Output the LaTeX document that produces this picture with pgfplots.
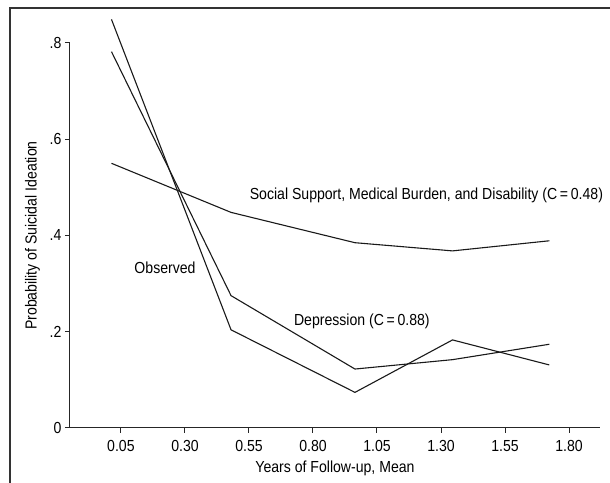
\documentclass[border=0pt]{standalone}
\usepackage{fontspec}
\setmainfont{Liberation Sans}[FakeStretch=0.88]
\usepackage{pgfplots}
\pgfplotsset{compat=1.18}

\begin{document}
\begin{tikzpicture}[font=\fontsize{16bp}{19bp}\selectfont,
    curve/.style={black!90, line width=1.1bp}]
\begin{axis}[
    scale only axis,
    width=530bp, height=385bp,
    xmin=-0.149, xmax=1.921,
    ymin=0, ymax=0.8,
    axis x line=bottom, axis y line=left,
    axis line style={-, line width=1bp, black!85},
    tick style={line width=1bp, black!85},
    tick align=outside,
    major tick length=5bp,
    xtick={0.05,0.30,0.55,0.80,1.05,1.30,1.55,1.80},
    xticklabels={0.05,0.30,0.55,0.80,1.05,1.30,1.55,1.80},
    ytick={0,0.2,0.4,0.6,0.8},
    yticklabels={0,.2,.4,.6,.8},
    xticklabel style={yshift=-4bp},
    xlabel={Years of Follow-up, Mean},
    ylabel={Probability of Suicidal Ideation},
    xlabel style={yshift=-2bp},
    ylabel style={yshift=3bp},
    clip=false,
]
% Social support, medical burden, and disability
\addplot[curve] coordinates {
    (0.013, 0.550) (0.480, 0.448) (0.964, 0.385) (1.345, 0.368) (1.723, 0.389)
};
% Observed
\addplot[curve] coordinates {
    (0.013, 0.849) (0.480, 0.204) (0.964, 0.074) (1.345, 0.183) (1.723, 0.131)
};
% Depression
\addplot[curve] coordinates {
    (0.013, 0.782) (0.480, 0.275) (0.964, 0.1225) (1.345, 0.142) (1.723, 0.174)
};
\node at (axis cs:1.243,0.484) {Social Support, Medical Burden, and Disability (C\,=\,0.48)};
\node at (axis cs:0.222,0.333) {Observed};
\node at (axis cs:0.991,0.221) {Depression (C\,=\,0.88)};
\coordinate (ll) at (rel axis cs:0,0);
\coordinate (ur) at (rel axis cs:1,1);
\end{axis}
% outer frame (top and left edges)
\coordinate (fbl) at ([shift={(-60bp,-55bp)}]ll);
\coordinate (ftr) at ([shift={(10bp,35bp)}]ur);
\draw[line width=1.5bp, black!80] (fbl) -- (fbl |- ftr) -- (ftr);
\pgfresetboundingbox
\path ([shift={(-70bp,-55bp)}]ll) rectangle ([shift={(10bp,43bp)}]ur);
\end{tikzpicture}
\end{document}
